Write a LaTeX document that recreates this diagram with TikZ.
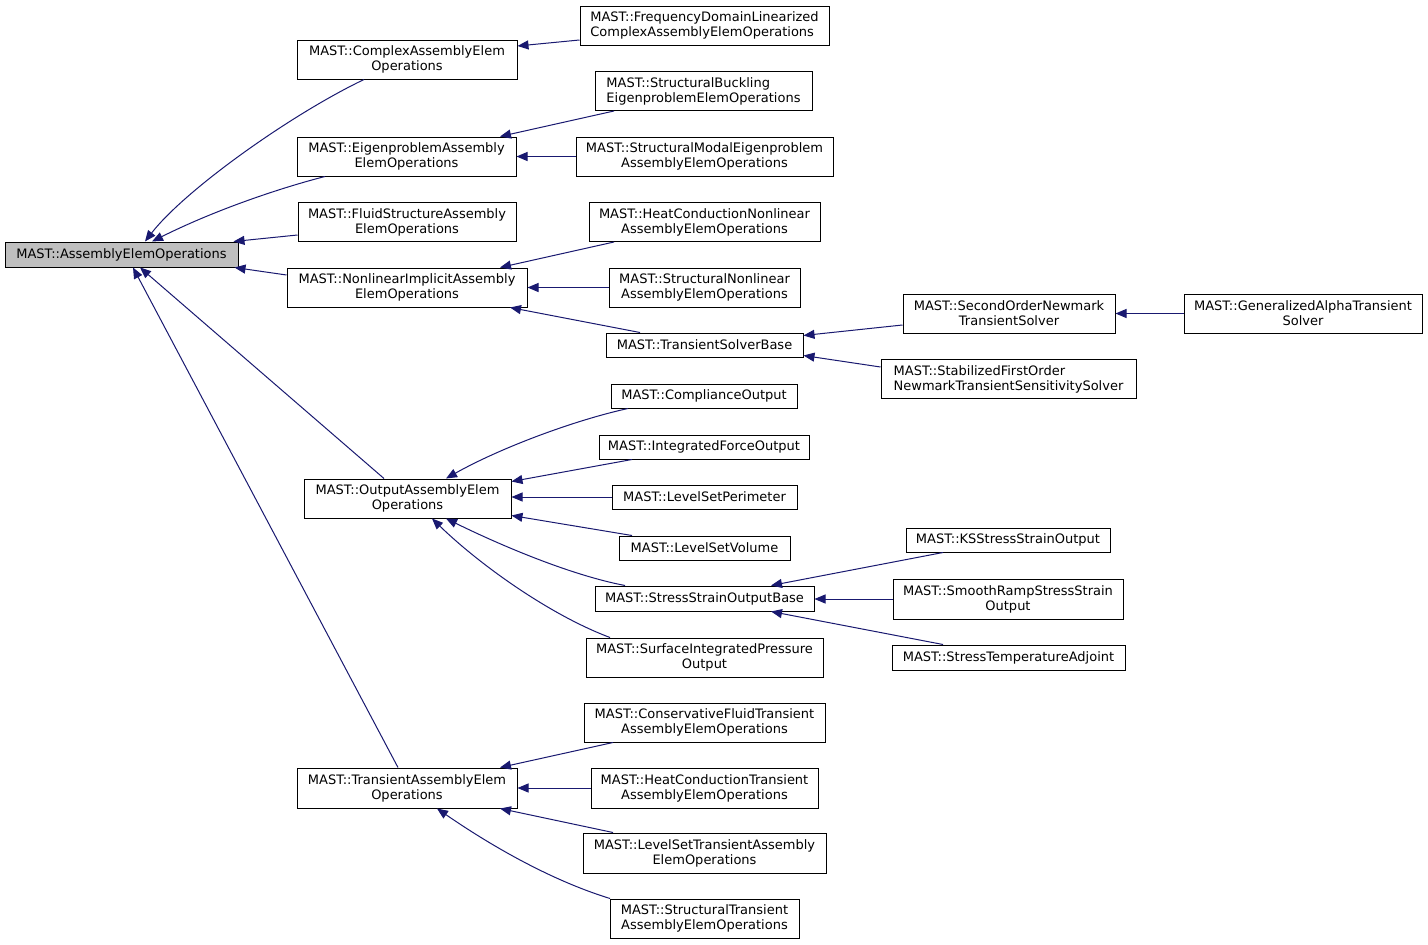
\documentclass[tikz,border=0pt]{standalone}
\usepackage{fontspec}
\setmainfont{DejaVu Sans}
\usetikzlibrary{arrows.meta}
\definecolor{edgeblue}{HTML}{191970}
\definecolor{rootgray}{HTML}{BFBFBF}
\tikzset{
  box/.style={draw=black, line width=1pt, fill=white, inner sep=0pt, align=center,
    font=\fontsize{13}{15}\selectfont},
  leftbox/.style={box, align=left},
  rootbox/.style={box, fill=rootgray},
  edge/.style={draw=edgeblue, line width=1pt, -{Triangle[length=11pt,width=9pt]}}
}
\begin{document}
\begin{tikzpicture}[x=1pt,y=-1pt]
\useasboundingbox[fill=white] (0,0) rectangle (1428,945);
% nodes
\node[rootbox, minimum width=233pt, minimum height=25pt] (root) at (121.5,254.5) {MAST::AssemblyElemOperations};
\node[box, minimum width=220pt, minimum height=39pt] (cplx) at (407,59.5) {MAST::ComplexAssemblyElem\\Operations};
\node[leftbox, minimum width=249pt, minimum height=39pt] (freq) at (704.5,25.5) {MAST::FrequencyDomainLinearized\\ComplexAssemblyElemOperations};
\node[box, minimum width=219pt, minimum height=39pt] (eig) at (406.5,156.5) {MAST::EigenproblemAssembly\\ElemOperations};
\node[leftbox, minimum width=217pt, minimum height=39pt] (buck) at (703.5,91) {MAST::StructuralBuckling\\EigenproblemElemOperations};
\node[box, minimum width=257pt, minimum height=39pt] (modal) at (704.5,156.5) {MAST::StructuralModalEigenproblem\\AssemblyElemOperations};
\node[box, minimum width=218pt, minimum height=39pt] (fluid) at (407,222) {MAST::FluidStructureAssembly\\ElemOperations};
\node[box, minimum width=240pt, minimum height=39pt] (nonl) at (407,287.5) {MAST::NonlinearImplicitAssembly\\ElemOperations};
\node[box, minimum width=231pt, minimum height=39pt] (heatnl) at (704.5,222) {MAST::HeatConductionNonlinear\\AssemblyElemOperations};
\node[box, minimum width=191pt, minimum height=39pt] (structnl) at (704.5,287.5) {MAST::StructuralNonlinear\\AssemblyElemOperations};
\node[box, minimum width=197pt, minimum height=24pt] (tsb) at (704.5,345) {MAST::TransientSolverBase};
\node[box, minimum width=212pt, minimum height=39pt] (second) at (1009,313.5) {MAST::SecondOrderNewmark\\TransientSolver};
\node[box, minimum width=238pt, minimum height=39pt] (galpha) at (1303,313.5) {MAST::GeneralizedAlphaTransient\\Solver};
\node[leftbox, minimum width=255pt, minimum height=39pt] (stab) at (1008.5,379) {MAST::StabilizedFirstOrder\\NewmarkTransientSensitivitySolver};
\node[box, minimum width=186pt, minimum height=24pt] (compl) at (704,396) {MAST::ComplianceOutput};
\node[box, minimum width=210pt, minimum height=24pt] (intf) at (704,447) {MAST::IntegratedForceOutput};
\node[box, minimum width=185pt, minimum height=24pt] (lsp) at (704.5,497) {MAST::LevelSetPerimeter};
\node[box, minimum width=171pt, minimum height=24pt] (lsv) at (704.5,548) {MAST::LevelSetVolume};
\node[box, minimum width=207pt, minimum height=39pt] (out) at (407.5,498.5) {MAST::OutputAssemblyElem\\Operations};
\node[box, minimum width=219pt, minimum height=25pt] (ssb) at (704.5,598.5) {MAST::StressStrainOutputBase};
\node[box, minimum width=237pt, minimum height=39pt] (surf) at (704.5,657.5) {MAST::SurfaceIntegratedPressure\\Output};
\node[box, minimum width=204pt, minimum height=24pt] (ks) at (1008,540) {MAST::KSStressStrainOutput};
\node[box, minimum width=230pt, minimum height=40pt] (smooth) at (1008,599) {MAST::SmoothRampStressStrain\\Output};
\node[box, minimum width=233pt, minimum height=25pt] (stemp) at (1008.5,657.5) {MAST::StressTemperatureAdjoint};
\node[box, minimum width=241pt, minimum height=39pt] (cons) at (704.5,722.5) {MAST::ConservativeFluidTransient\\AssemblyElemOperations};
\node[box, minimum width=220pt, minimum height=40pt] (trans) at (407,788) {MAST::TransientAssemblyElem\\Operations};
\node[box, minimum width=227pt, minimum height=40pt] (heatt) at (704.5,788) {MAST::HeatConductionTransient\\AssemblyElemOperations};
\node[box, minimum width=243pt, minimum height=40pt] (lst) at (704.5,853) {MAST::LevelSetTransientAssembly\\ElemOperations};
\node[box, minimum width=189pt, minimum height=39pt] (strt) at (704.5,918.5) {MAST::StructuralTransient\\AssemblyElemOperations};
% edges
\draw[edge] ([xshift=-43pt]cplx.south) .. controls (290,115) and (185,190) .. ([xshift=23.5pt]root.north);
\draw[edge] ([xshift=-81.5pt]eig.south) .. controls (280,188) and (215,210) .. ([xshift=30.5pt]root.north);
\draw[edge] ([yshift=-13pt]fluid.west) -- ([xshift=-5pt]root.north east);
\draw[edge] ([yshift=12.5pt]nonl.west) -- ([xshift=-4pt]root.south east);
\draw[edge] ([xshift=-23.5pt]out.north) -- ([xshift=18.5pt]root.south);
\draw[edge] ([xshift=-9pt]trans.north) -- ([xshift=11.5pt]root.south);
\draw[edge] ([yshift=-14.5pt]freq.west) -- ([yshift=13.5pt]cplx.east);
\draw[edge] ([xshift=-89.5pt]buck.south) -- ([xshift=93.5pt]eig.north);
\draw[edge] (modal.west) -- (eig.east);
\draw[edge] ([xshift=-90.5pt]heatnl.south) -- ([xshift=93pt]nonl.north);
\draw[edge] (structnl.west) -- (nonl.east);
\draw[edge] ([xshift=-64.5pt]tsb.north) -- ([xshift=103pt]nonl.south);
\draw[edge] ([yshift=-11.5pt]second.west) -- ([yshift=-3pt]tsb.north east);
\draw[edge] ([yshift=12pt]stab.west) -- ([yshift=2pt]tsb.south east);
\draw[edge] (galpha.west) -- (second.east);
\draw[edge] ([xshift=-76pt]compl.south) .. controls (575,420) and (500,448) .. ([xshift=38.5pt]out.north);
\draw[edge] ([xshift=-72pt]intf.south) -- ([yshift=-3pt]out.north east);
\draw[edge] (lsp.west) -- (lsp.west -| out.east);
\draw[edge] ([xshift=-72.5pt]lsv.north) -- ([yshift=3pt]out.south east);
\draw[edge] ([xshift=-79.5pt]ssb.north) .. controls (570,575) and (500,545) .. ([xshift=38.5pt]out.south);
\draw[edge] ([xshift=-94.5pt]surf.north) .. controls (550,615) and (480,565) .. ([xshift=24.5pt]out.south);
\draw[edge] ([xshift=-65pt]ks.south) -- ([xshift=66.5pt]ssb.north);
\draw[edge] (smooth.west) -- (smooth.west -| ssb.east);
\draw[edge] ([xshift=-65.5pt]stemp.north) -- ([xshift=66.5pt]ssb.south);
\draw[edge] ([xshift=-91.5pt]cons.south) -- ([xshift=93pt]trans.north);
\draw[edge] (heatt.west) -- (trans.east);
\draw[edge] ([xshift=-91.5pt]lst.north) -- ([xshift=93pt]trans.south);
\draw[edge] ([xshift=-94.5pt]strt.north) .. controls (550,880) and (490,845) .. ([xshift=30pt]trans.south);
\end{tikzpicture}
\end{document}
